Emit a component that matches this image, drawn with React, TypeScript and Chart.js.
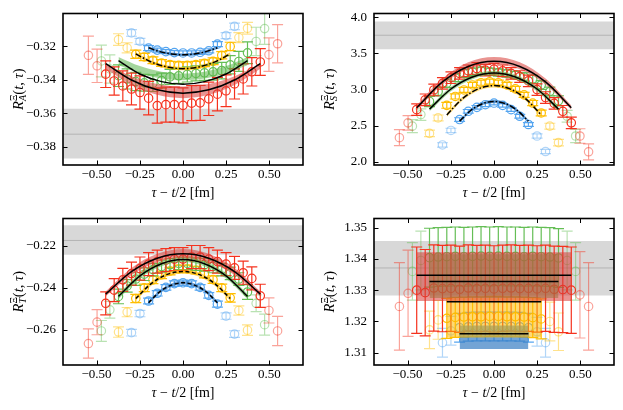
import React, { useEffect, useRef } from "react";
import { Chart, registerables } from "chart.js";

Chart.register(...registerables);

const FONT = "'Liberation Serif', 'DejaVu Serif', serif";

// ---- tau values (fm) ----
const TAU_RED = [-0.547, -0.497, -0.447, -0.398, -0.348, -0.298, -0.249, -0.199, -0.149, -0.099, -0.05, 0, 0.05, 0.099, 0.149, 0.199, 0.249, 0.298, 0.348, 0.398, 0.447, 0.497, 0.547];
const TAU_GREEN = [-0.472, -0.423, -0.373, -0.323, -0.273, -0.224, -0.174, -0.124, -0.075, -0.025, 0.025, 0.075, 0.124, 0.174, 0.224, 0.273, 0.323, 0.373, 0.423, 0.472];
const TAU_YELLOW = [-0.373, -0.323, -0.273, -0.224, -0.174, -0.124, -0.075, -0.025, 0.025, 0.075, 0.124, 0.174, 0.224, 0.273, 0.323, 0.373];
const TAU_BLUE = [-0.298, -0.249, -0.199, -0.149, -0.099, -0.05, 0, 0.05, 0.099, 0.149, 0.199, 0.249, 0.298];

const FX_RED = [-0.447, -0.298, -0.149, 0, 0.149, 0.298, 0.447];
const FX_GREEN = [-0.373, -0.249, -0.124, 0, 0.124, 0.249, 0.373];
const FX_YELLOW = [-0.273, -0.182, -0.091, 0, 0.091, 0.182, 0.273];
const FX_BLUE = [-0.199, -0.133, -0.066, 0, 0.066, 0.133, 0.199];
const FX_RED_FLAT = [-0.447, 0.447];
const FX_GREEN_FLAT = [-0.373, 0.373];
const FX_YELLOW_FLAT = [-0.273, 0.273];
const FX_BLUE_FLAT = [-0.199, 0.199];

const X_TICKS = [-0.5, -0.25, 0, 0.25, 0.5];

// ---- panel A ----
const A_RED = [-0.3253, -0.3316, -0.3366, -0.3407, -0.3437, -0.3455, -0.3476, -0.351, -0.3555, -0.3549, -0.3549, -0.3553, -0.354, -0.3538, -0.3514, -0.3486, -0.3466, -0.3425, -0.3395, -0.3352, -0.3293, -0.3249, -0.3184];
const A_RED_ERR = [0.0115, 0.01, 0.008, 0.0085, 0.009, 0.0095, 0.01, 0.01, 0.0105, 0.0105, 0.0105, 0.0105, 0.0105, 0.0105, 0.01, 0.01, 0.0095, 0.009, 0.009, 0.0085, 0.008, 0.01, 0.0115];
const A_GREEN = [-0.3287, -0.3335, -0.3375, -0.3395, -0.341, -0.3418, -0.342, -0.3405, -0.3382, -0.3376, -0.3368, -0.3362, -0.3358, -0.3352, -0.3345, -0.331, -0.329, -0.3238, -0.317, -0.3093];
const A_GREEN_ERR = [0.0095, 0.0085, 0.0065, 0.006, 0.0055, 0.005, 0.005, 0.0045, 0.0045, 0.0045, 0.0045, 0.0045, 0.0045, 0.005, 0.005, 0.0055, 0.006, 0.0065, 0.0085, 0.0095];
const A_YELLOW = [-0.3159, -0.3208, -0.3247, -0.3263, -0.3283, -0.3299, -0.3309, -0.3313, -0.3313, -0.3309, -0.3301, -0.3289, -0.3253, -0.32, -0.3147, -0.3091];
const A_YELLOW_ERR = [0.0035, 0.003, 0.0025, 0.0022, 0.002, 0.002, 0.002, 0.002, 0.002, 0.002, 0.002, 0.002, 0.0022, 0.0025, 0.003, 0.0035];
const A_BLUE = [-0.3119, -0.317, -0.321, -0.3222, -0.3231, -0.3237, -0.3239, -0.3239, -0.3235, -0.3226, -0.3186, -0.3135, -0.308];
const A_BLUE_ERR = [0.002, 0.0018, 0.0015, 0.0012, 0.0012, 0.0012, 0.0012, 0.0012, 0.0012, 0.0012, 0.0015, 0.0018, 0.002];
const A_FIT_BLUE = [-0.3208, -0.3231, -0.3245, -0.325, -0.3245, -0.3231, -0.3208];
const A_FIT_BLUE_LO = [-0.3216, -0.3239, -0.3253, -0.3258, -0.3253, -0.3239, -0.3216];
const A_FIT_BLUE_HI = [-0.32, -0.3223, -0.3237, -0.3242, -0.3237, -0.3223, -0.32];
const A_FIT_YELLOW = [-0.3245, -0.3294, -0.3323, -0.3333, -0.3323, -0.3294, -0.3245];
const A_FIT_YELLOW_LO = [-0.3255, -0.3304, -0.3333, -0.3343, -0.3333, -0.3304, -0.3255];
const A_FIT_YELLOW_HI = [-0.3235, -0.3284, -0.3313, -0.3323, -0.3313, -0.3284, -0.3235];
const A_FIT_GREEN = [-0.3285, -0.3365, -0.3411, -0.3427, -0.3411, -0.3365, -0.3285];
const A_FIT_GREEN_LO = [-0.3313, -0.3362, -0.3392, -0.3402, -0.3392, -0.3362, -0.3313];
const A_FIT_GREEN_HI = [-0.3263, -0.3318, -0.3351, -0.3362, -0.3351, -0.3318, -0.3263];
const A_FIT_RED = [-0.3303, -0.3401, -0.346, -0.348, -0.346, -0.3401, -0.3303];
const A_FIT_RED_LO = [-0.3333, -0.3431, -0.349, -0.351, -0.349, -0.3431, -0.3333];
const A_FIT_RED_HI = [-0.3303, -0.3379, -0.3425, -0.344, -0.3425, -0.3379, -0.3303];
const A_REF = [-0.3871, -0.3726, -0.3574];
const A_Y_TICKS = [-0.38, -0.36, -0.34, -0.32];

// ---- panel S ----
const S_RED = [2.336, 2.541, 2.723, 2.859, 2.995, 3.086, 3.164, 3.223, 3.259, 3.291, 3.268, 3.282, 3.259, 3.223, 3.18, 3.12, 3.0, 2.89, 2.81, 2.7, 2.541, 2.359, 2.141];
const S_RED_ERR = [0.11, 0.1, 0.08, 0.08, 0.08, 0.08, 0.08, 0.08, 0.08, 0.08, 0.08, 0.08, 0.08, 0.08, 0.08, 0.08, 0.08, 0.08, 0.08, 0.08, 0.08, 0.1, 0.11];
const S_GREEN = [2.495, 2.655, 2.836, 2.973, 3.086, 3.164, 3.223, 3.245, 3.259, 3.245, 3.236, 3.223, 3.2, 3.177, 3.145, 3.064, 2.973, 2.845, 2.632, 2.359];
const S_GREEN_ERR = [0.09, 0.08, 0.07, 0.06, 0.06, 0.055, 0.055, 0.05, 0.05, 0.05, 0.05, 0.05, 0.05, 0.055, 0.055, 0.06, 0.06, 0.07, 0.08, 0.09];
const S_YELLOW = [2.395, 2.609, 2.782, 2.905, 2.995, 3.064, 3.095, 3.109, 3.095, 3.064, 3.009, 2.927, 2.814, 2.677, 2.495, 2.268];
const S_YELLOW_ERR = [0.045, 0.04, 0.04, 0.035, 0.035, 0.035, 0.035, 0.035, 0.035, 0.035, 0.035, 0.035, 0.035, 0.04, 0.04, 0.045];
const S_BLUE = [2.236, 2.436, 2.586, 2.7, 2.755, 2.791, 2.814, 2.782, 2.723, 2.632, 2.518, 2.359, 2.145];
const S_BLUE_ERR = [0.03, 0.03, 0.025, 0.025, 0.025, 0.025, 0.025, 0.025, 0.025, 0.025, 0.025, 0.03, 0.03];
const S_FIT_BLUE = [2.564, 2.715, 2.806, 2.836, 2.806, 2.715, 2.564];
const S_FIT_BLUE_LO = [2.544, 2.695, 2.786, 2.816, 2.786, 2.695, 2.544];
const S_FIT_BLUE_HI = [2.584, 2.735, 2.826, 2.856, 2.826, 2.735, 2.584];
const S_FIT_YELLOW = [2.65, 2.875, 3.01, 3.055, 3.01, 2.875, 2.65];
const S_FIT_YELLOW_LO = [2.625, 2.85, 2.985, 3.03, 2.985, 2.85, 2.625];
const S_FIT_YELLOW_HI = [2.675, 2.9, 3.035, 3.08, 3.035, 2.9, 2.675];
const S_FIT_GREEN = [2.73, 3.008, 3.174, 3.23, 3.174, 3.008, 2.73];
const S_FIT_GREEN_LO = [2.7, 2.978, 3.144, 3.2, 3.144, 2.978, 2.7];
const S_FIT_GREEN_HI = [2.76, 3.038, 3.204, 3.26, 3.204, 3.038, 2.76];
const S_FIT_RED = [2.75, 3.106, 3.319, 3.39, 3.319, 3.106, 2.75];
const S_FIT_RED_LO = [2.72, 3.07, 3.28, 3.35, 3.28, 3.07, 2.72];
const S_FIT_RED_HI = [2.78, 3.152, 3.376, 3.45, 3.376, 3.152, 2.78];
const S_REF = [3.555, 3.75, 3.941];
const S_Y_TICKS = [2.0, 2.5, 3.0, 3.5, 4.0];

// ---- panel T ----
const T_RED = [-0.2666, -0.2564, -0.2474, -0.2411, -0.2362, -0.2332, -0.2308, -0.2287, -0.2275, -0.2268, -0.2263, -0.2263, -0.2253, -0.2253, -0.2263, -0.2275, -0.2287, -0.2305, -0.2328, -0.2355, -0.2438, -0.2508, -0.2606];
const T_RED_ERR = [0.007, 0.006, 0.0055, 0.0055, 0.0055, 0.0055, 0.0055, 0.0055, 0.0055, 0.0055, 0.0055, 0.0055, 0.0055, 0.0055, 0.0055, 0.0055, 0.0055, 0.0055, 0.0055, 0.0055, 0.0055, 0.006, 0.007];
const T_GREEN = [-0.2606, -0.2505, -0.2441, -0.2391, -0.2358, -0.2335, -0.2313, -0.2298, -0.229, -0.2283, -0.2283, -0.2287, -0.229, -0.2298, -0.2313, -0.2331, -0.2358, -0.242, -0.2474, -0.2576];
const T_GREEN_ERR = [0.005, 0.004, 0.0035, 0.003, 0.003, 0.003, 0.003, 0.003, 0.003, 0.003, 0.003, 0.003, 0.003, 0.003, 0.003, 0.003, 0.003, 0.0035, 0.004, 0.005];
const T_YELLOW = [-0.2611, -0.2516, -0.2451, -0.24, -0.2362, -0.2338, -0.232, -0.231, -0.231, -0.2316, -0.2335, -0.2361, -0.24, -0.2448, -0.2508, -0.2602];
const T_YELLOW_ERR = [0.0025, 0.0022, 0.002, 0.0018, 0.0018, 0.0018, 0.0018, 0.0018, 0.0018, 0.0018, 0.0018, 0.0018, 0.0018, 0.002, 0.0022, 0.0025];
const T_BLUE = [-0.2614, -0.2523, -0.2463, -0.2426, -0.2398, -0.238, -0.2376, -0.238, -0.2398, -0.2436, -0.2478, -0.2535, -0.2621];
const T_BLUE_ERR = [0.0016, 0.0015, 0.0014, 0.0013, 0.0013, 0.0013, 0.0013, 0.0013, 0.0013, 0.0013, 0.0014, 0.0015, 0.0016];
const T_FIT_BLUE = [-0.2471, -0.2418, -0.2387, -0.2376, -0.2387, -0.2418, -0.2471];
const T_FIT_BLUE_LO = [-0.2479, -0.2426, -0.2395, -0.2384, -0.2395, -0.2426, -0.2479];
const T_FIT_BLUE_HI = [-0.2463, -0.241, -0.2379, -0.2368, -0.2379, -0.241, -0.2463];
const T_FIT_YELLOW = [-0.2451, -0.2379, -0.2336, -0.2322, -0.2336, -0.2379, -0.2451];
const T_FIT_YELLOW_LO = [-0.2461, -0.2389, -0.2346, -0.2332, -0.2346, -0.2389, -0.2461];
const T_FIT_YELLOW_HI = [-0.2441, -0.2369, -0.2326, -0.2312, -0.2326, -0.2369, -0.2441];
const T_FIT_GREEN = [-0.2441, -0.2343, -0.2285, -0.2265, -0.2285, -0.2343, -0.2441];
const T_FIT_GREEN_LO = [-0.2453, -0.2355, -0.2297, -0.2277, -0.2297, -0.2355, -0.2453];
const T_FIT_GREEN_HI = [-0.2429, -0.2331, -0.2273, -0.2253, -0.2273, -0.2331, -0.2429];
const T_FIT_RED = [-0.243, -0.2323, -0.2259, -0.2238, -0.2259, -0.2323, -0.243];
const T_FIT_RED_LO = [-0.244, -0.2339, -0.2278, -0.2258, -0.2278, -0.2339, -0.244];
const T_FIT_RED_HI = [-0.2418, -0.2305, -0.2238, -0.2215, -0.2238, -0.2305, -0.2418];
const T_REF = [-0.2242, -0.2174, -0.2102];
const T_Y_TICKS = [-0.26, -0.24, -0.22];

// ---- panel V ----
const V_RED = [1.3248, 1.329, 1.33, 1.3292, 1.3307, 1.3305, 1.3306, 1.3303, 1.3307, 1.3305, 1.3306, 1.3304, 1.3306, 1.3307, 1.3305, 1.3306, 1.3304, 1.3306, 1.3303, 1.3302, 1.33, 1.3285, 1.3248];
const V_RED_ERR = [0.014, 0.0138, 0.0138, 0.0138, 0.0138, 0.0138, 0.0138, 0.0138, 0.0138, 0.0138, 0.0138, 0.0138, 0.0138, 0.0138, 0.0138, 0.0138, 0.0138, 0.0138, 0.0138, 0.0138, 0.0138, 0.0138, 0.014];
const V_GREEN = [1.336, 1.3395, 1.3404, 1.3406, 1.3407, 1.3408, 1.3407, 1.3408, 1.3409, 1.3408, 1.3409, 1.3408, 1.3408, 1.3407, 1.3408, 1.3407, 1.3406, 1.3403, 1.3395, 1.336];
const V_GREEN_ERR = [0.0092, 0.0094, 0.0094, 0.0094, 0.0094, 0.0094, 0.0094, 0.0094, 0.0094, 0.0094, 0.0094, 0.0094, 0.0094, 0.0094, 0.0094, 0.0094, 0.0094, 0.0094, 0.0094, 0.0092];
const V_YELLOW = [1.3173, 1.3205, 1.321, 1.3213, 1.3214, 1.3215, 1.3215, 1.3216, 1.3216, 1.3215, 1.3215, 1.3214, 1.3212, 1.3208, 1.32, 1.3167];
const V_YELLOW_ERR = [0.006, 0.0062, 0.0064, 0.0064, 0.0064, 0.0064, 0.0064, 0.0064, 0.0064, 0.0064, 0.0064, 0.0064, 0.0064, 0.0064, 0.0062, 0.006];
const V_BLUE = [1.3132, 1.317, 1.318, 1.3183, 1.3184, 1.3184, 1.3184, 1.3184, 1.3184, 1.3183, 1.318, 1.3167, 1.3132];
const V_BLUE_ERR = [0.0046, 0.0046, 0.0046, 0.0046, 0.0046, 0.0046, 0.0046, 0.0046, 0.0046, 0.0046, 0.0046, 0.0046, 0.0046];
const V_FIT_BLUE = [1.3161, 1.3161];
const V_FIT_BLUE_LO = [1.3112, 1.3112];
const V_FIT_BLUE_HI = [1.3187, 1.3187];
const V_FIT_YELLOW = [1.3263, 1.3263];
const V_FIT_YELLOW_LO = [1.3149, 1.3149];
const V_FIT_YELLOW_HI = [1.3278, 1.3278];
const V_FIT_GREEN = [1.3328, 1.3328];
const V_FIT_GREEN_LO = [1.3275, 1.3275];
const V_FIT_GREEN_HI = [1.3415, 1.3415];
const V_FIT_RED = [1.3348, 1.3348];
const V_FIT_RED_LO = [1.3265, 1.3265];
const V_FIT_RED_HI = [1.3421, 1.3421];
const V_REF = [1.3283, 1.3371, 1.3457];
const V_Y_TICKS = [1.31, 1.32, 1.33, 1.34, 1.35];

// ---- styles ----
const RGB_BLUE = "85,165,240";
const RGB_YELLOW = "255,190,0";
const RGB_GREEN = "100,190,85";
const RGB_RED = "245,50,30";
const BAND_BLUE = "rgba(55,125,195,0.7)";
const BAND_YELLOW = "rgba(255,185,0,0.55)";
const BAND_GREEN = "rgba(90,180,75,0.55)";
const BAND_RED = "rgba(215,60,55,0.55)";
const DASH_DOT = [6, 2, 1.5, 2];
const DASHED = [4, 2.5];
const SOLID: number[] = [];

type Series = { tau: number[]; y: number[]; err: number[]; rgb: string };
type Fit = { x: number[]; line: number[]; lo: number[]; hi: number[]; band: string; dash: number[] };
type PanelDef = {
  left: number; top: number; w: number; plotTop: number; plotBottom: number;
  yMin: number; yMax: number; yTicks: number[]; yDec: number; sub: string;
  ref: number[]; series: Series[]; fits: Fit[];
};

const H = 205;
const PLOT_LEFT = 63;
const PLOT_RIGHT = 303;

function mkSeries(a: number[][]): Series[] {
  const rgbs = [RGB_BLUE, RGB_YELLOW, RGB_GREEN, RGB_RED];
  const taus = [TAU_BLUE, TAU_YELLOW, TAU_GREEN, TAU_RED];
  return rgbs.map((rgb, i) => ({ tau: taus[i], y: a[i * 2], err: a[i * 2 + 1], rgb }));
}

const PANELS: PanelDef[] = [
  {
    left: 0, top: 0, w: 311, plotTop: 11, plotBottom: 165, yMin: -0.39106, yMax: -0.30026,
    yTicks: A_Y_TICKS, yDec: 2, sub: "A", ref: A_REF,
    series: mkSeries([A_BLUE, A_BLUE_ERR, A_YELLOW, A_YELLOW_ERR, A_GREEN, A_GREEN_ERR, A_RED, A_RED_ERR]),
    fits: [
      { x: FX_BLUE, line: A_FIT_BLUE, lo: A_FIT_BLUE_LO, hi: A_FIT_BLUE_HI, band: BAND_BLUE, dash: DASH_DOT },
      { x: FX_YELLOW, line: A_FIT_YELLOW, lo: A_FIT_YELLOW_LO, hi: A_FIT_YELLOW_HI, band: BAND_YELLOW, dash: DASH_DOT },
      { x: FX_GREEN, line: A_FIT_GREEN, lo: A_FIT_GREEN_LO, hi: A_FIT_GREEN_HI, band: BAND_GREEN, dash: SOLID },
      { x: FX_RED, line: A_FIT_RED, lo: A_FIT_RED_LO, hi: A_FIT_RED_HI, band: BAND_RED, dash: SOLID },
    ],
  },
  {
    left: 311, top: 0, w: 312, plotTop: 11, plotBottom: 165, yMin: 1.959, yMax: 4.05,
    yTicks: S_Y_TICKS, yDec: 1, sub: "S", ref: S_REF,
    series: mkSeries([S_BLUE, S_BLUE_ERR, S_YELLOW, S_YELLOW_ERR, S_GREEN, S_GREEN_ERR, S_RED, S_RED_ERR]),
    fits: [
      { x: FX_BLUE, line: S_FIT_BLUE, lo: S_FIT_BLUE_LO, hi: S_FIT_BLUE_HI, band: BAND_BLUE, dash: DASH_DOT },
      { x: FX_YELLOW, line: S_FIT_YELLOW, lo: S_FIT_YELLOW_LO, hi: S_FIT_YELLOW_HI, band: BAND_YELLOW, dash: DASH_DOT },
      { x: FX_GREEN, line: S_FIT_GREEN, lo: S_FIT_GREEN_LO, hi: S_FIT_GREEN_HI, band: BAND_GREEN, dash: SOLID },
      { x: FX_RED, line: S_FIT_RED, lo: S_FIT_RED_LO, hi: S_FIT_RED_HI, band: BAND_RED, dash: SOLID },
    ],
  },
  {
    left: 0, top: 205, w: 311, plotTop: 6, plotBottom: 160, yMin: -0.27684, yMax: -0.20692,
    yTicks: T_Y_TICKS, yDec: 2, sub: "T", ref: T_REF,
    series: mkSeries([T_BLUE, T_BLUE_ERR, T_YELLOW, T_YELLOW_ERR, T_GREEN, T_GREEN_ERR, T_RED, T_RED_ERR]),
    fits: [
      { x: FX_BLUE, line: T_FIT_BLUE, lo: T_FIT_BLUE_LO, hi: T_FIT_BLUE_HI, band: BAND_BLUE, dash: DASHED },
      { x: FX_YELLOW, line: T_FIT_YELLOW, lo: T_FIT_YELLOW_LO, hi: T_FIT_YELLOW_HI, band: BAND_YELLOW, dash: DASHED },
      { x: FX_GREEN, line: T_FIT_GREEN, lo: T_FIT_GREEN_LO, hi: T_FIT_GREEN_HI, band: BAND_GREEN, dash: SOLID },
      { x: FX_RED, line: T_FIT_RED, lo: T_FIT_RED_LO, hi: T_FIT_RED_HI, band: BAND_RED, dash: SOLID },
    ],
  },
  {
    left: 311, top: 205, w: 312, plotTop: 6, plotBottom: 160, yMin: 1.30607, yMax: 1.35292,
    yTicks: V_Y_TICKS, yDec: 2, sub: "V", ref: V_REF,
    series: mkSeries([V_BLUE, V_BLUE_ERR, V_YELLOW, V_YELLOW_ERR, V_GREEN, V_GREEN_ERR, V_RED, V_RED_ERR]),
    fits: [
      { x: FX_BLUE_FLAT, line: V_FIT_BLUE, lo: V_FIT_BLUE_LO, hi: V_FIT_BLUE_HI, band: BAND_BLUE, dash: SOLID },
      { x: FX_YELLOW_FLAT, line: V_FIT_YELLOW, lo: V_FIT_YELLOW_LO, hi: V_FIT_YELLOW_HI, band: BAND_YELLOW, dash: SOLID },
      { x: FX_GREEN_FLAT, line: V_FIT_GREEN, lo: V_FIT_GREEN_LO, hi: V_FIT_GREEN_HI, band: BAND_GREEN, dash: SOLID },
      { x: FX_RED_FLAT, line: V_FIT_RED, lo: V_FIT_RED_LO, hi: V_FIT_RED_HI, band: BAND_RED, dash: SOLID },
    ],
  },
];

const pts = (xs: number[], ys: number[]) => xs.map((x, i) => ({ x, y: ys[i] }));

function buildDatasets(p: PanelDef) {
  const ds: any[] = [];
  const line = (data: any[], extra: any) => ({
    type: "line", data, pointRadius: 0, pointHoverRadius: 0, borderColor: "rgba(0,0,0,0)",
    borderWidth: 0, fill: false, cubicInterpolationMode: "monotone", ...extra,
  });
  // reference band
  ds.push(line(pts([-1, 1], [p.ref[0], p.ref[0]]), {}));
  ds.push(line(pts([-1, 1], [p.ref[2], p.ref[2]]), { fill: "-1", backgroundColor: "rgba(190,190,190,0.6)" }));
  ds.push(line(pts([-1, 1], [p.ref[1], p.ref[1]]), { borderColor: "rgba(170,170,170,0.8)", borderWidth: 1 }));
  // data points with error bars
  for (const s of p.series) {
    const n = s.tau.length;
    const idxF: number[] = [];
    const idxS: number[] = [];
    for (let i = 0; i < n; i++) (i < 2 || i >= n - 2 ? idxF : idxS).push(i);
    for (const [idx, alpha] of [[idxF, 0.45], [idxS, 1]] as [number[], number][]) {
      const col = `rgba(${s.rgb},${alpha})`;
      ds.push({
        type: "scatter",
        data: idx.map((i) => ({ x: s.tau[i], y: s.y[i] })),
        errors: idx.map((i) => s.err[i]),
        borderColor: col, pointBorderColor: col, pointBackgroundColor: "rgba(0,0,0,0)",
        pointRadius: 4.2, pointHoverRadius: 4.2, pointBorderWidth: 1.2, showLine: false,
      });
    }
  }
  // fit bands
  for (const f of p.fits) {
    ds.push(line(pts(f.x, f.lo), {}));
    ds.push(line(pts(f.x, f.hi), { fill: "-1", backgroundColor: f.band }));
  }
  // fit central lines
  for (const f of p.fits) {
    ds.push(line(pts(f.x, f.line), { borderColor: "#000", borderWidth: 1.5, borderDash: f.dash }));
  }
  ds.forEach((d, i) => { d.order = 1000 - i; d.clip = 0; });
  return ds;
}

type Part = { t: string; font: string; dy?: number };
function drawRich(ctx: CanvasRenderingContext2D, segs: Part[][], cx: number, cy: number, rotate: boolean) {
  ctx.save();
  ctx.translate(cx, cy);
  if (rotate) ctx.rotate(-Math.PI / 2);
  ctx.fillStyle = "#000";
  ctx.textAlign = "left";
  ctx.textBaseline = "alphabetic";
  const widths = segs.map((s) => {
    let w = 0;
    for (const part of s) { ctx.font = part.font; w = Math.max(w, ctx.measureText(part.t).width); }
    return w;
  });
  const total = widths.reduce((a, b) => a + b, 0);
  let x = -total / 2;
  segs.forEach((s, i) => {
    for (const part of s) { ctx.font = part.font; ctx.fillText(part.t, x, 5 + (part.dy || 0)); }
    x += widths[i];
  });
  ctx.restore();
}

const fmt = (v: number, d: number) => (v < -1e-9 ? "\u2212" : "") + Math.abs(v).toFixed(d);

function makeConfig(p: PanelDef): any {
  const F = (s: number, it = false) => `${it ? "italic " : ""}${s}px ${FONT}`;
  const decor = {
    id: "decor",
    beforeDatasetDraw(chart: any, args: any) {
      const ds = chart.data.datasets[args.index];
      if (!ds.errors) return;
      const { ctx, chartArea: ca } = chart;
      const xs = chart.scales.x;
      const ys = chart.scales.y;
      ctx.save();
      ctx.beginPath();
      ctx.rect(ca.left, ca.top, ca.right - ca.left, ca.bottom - ca.top);
      ctx.clip();
      ctx.strokeStyle = ds.borderColor;
      ctx.lineWidth = 1.2;
      const cap = 5.5;
      ds.data.forEach((pt: any, i: number) => {
        const e = ds.errors[i];
        const px = xs.getPixelForValue(pt.x);
        const y1 = ys.getPixelForValue(pt.y + e);
        const y2 = ys.getPixelForValue(pt.y - e);
        ctx.beginPath();
        ctx.moveTo(px, y1); ctx.lineTo(px, y2);
        ctx.moveTo(px - cap, y1); ctx.lineTo(px + cap, y1);
        ctx.moveTo(px - cap, y2); ctx.lineTo(px + cap, y2);
        ctx.stroke();
      });
      ctx.restore();
    },
    afterDatasetsDraw(chart: any) {
      const { ctx, chartArea: ca } = chart;
      const xs = chart.scales.x;
      const ys = chart.scales.y;
      ctx.save();
      ctx.strokeStyle = "#000";
      ctx.lineWidth = 1;
      const tl = 4.5;
      ctx.beginPath();
      for (const v of X_TICKS) {
        const px = Math.round(xs.getPixelForValue(v)) + 0.5;
        ctx.moveTo(px, ca.bottom); ctx.lineTo(px, ca.bottom - tl);
        ctx.moveTo(px, ca.top); ctx.lineTo(px, ca.top + tl);
      }
      for (const v of p.yTicks) {
        const py = Math.round(ys.getPixelForValue(v)) + 0.5;
        ctx.moveTo(ca.left, py); ctx.lineTo(ca.left + tl, py);
        ctx.moveTo(ca.right, py); ctx.lineTo(ca.right - tl, py);
      }
      ctx.stroke();
      ctx.lineWidth = 1.6;
      ctx.strokeRect(ca.left, ca.top, ca.right - ca.left, ca.bottom - ca.top);
      ctx.restore();
    },
    afterDraw(chart: any) {
      const { ctx, chartArea: ca } = chart;
      drawRich(ctx, [
        [{ t: "\u03c4", font: F(14, true) }],
        [{ t: " \u2212 ", font: F(14) }],
        [{ t: "t", font: F(14, true) }],
        [{ t: "/2 [fm]", font: F(14) }],
      ], (ca.left + ca.right) / 2, ca.bottom + 27, false);
      drawRich(ctx, [
        [{ t: "R", font: F(14.5, true) }],
        [{ t: "\u039e", font: F(10), dy: -6.5 }, { t: p.sub, font: F(10, true), dy: 3 }],
        [{ t: "(", font: F(14.5) }],
        [{ t: "t", font: F(14.5, true) }],
        [{ t: ", ", font: F(14.5) }],
        [{ t: "\u03c4", font: F(14.5, true) }],
        [{ t: ")", font: F(14.5) }],
      ], 18, (ca.top + ca.bottom) / 2, true);
    },
  };
  const tickFont = { family: FONT, size: 13, lineHeight: 1 };
  return {
    type: "scatter",
    data: { datasets: buildDatasets(p) },
    plugins: [decor],
    options: {
      animation: false,
      responsive: false,
      maintainAspectRatio: false,
      events: [],
      layout: { autoPadding: false, padding: { left: 0, top: p.plotTop, right: p.w - PLOT_RIGHT, bottom: 0 } },
      plugins: { legend: { display: false }, tooltip: { enabled: false } },
      scales: {
        x: {
          type: "linear", min: -0.694, max: 0.694,
          grid: { display: false, drawTicks: false }, border: { display: false },
          afterFit: (s: any) => { s.height = H - p.plotBottom; },
          afterBuildTicks: (s: any) => { s.ticks = X_TICKS.map((v) => ({ value: v })); },
          ticks: { font: tickFont, color: "#000", padding: 3, maxRotation: 0, autoSkip: false, callback: (v: number) => fmt(v, 2) },
        },
        y: {
          type: "linear", min: p.yMin, max: p.yMax,
          grid: { display: false, drawTicks: false }, border: { display: false },
          afterFit: (s: any) => { s.width = PLOT_LEFT; },
          afterBuildTicks: (s: any) => { s.ticks = p.yTicks.map((v) => ({ value: v })); },
          ticks: { font: tickFont, color: "#000", padding: 7, autoSkip: false, callback: (v: number) => fmt(v, p.yDec) },
        },
      },
    },
  };
}

function Panel({ p }: { p: PanelDef }) {
  const ref = useRef<HTMLCanvasElement>(null);
  useEffect(() => {
    const chart = new Chart(ref.current as HTMLCanvasElement, makeConfig(p));
    return () => chart.destroy();
  }, [p]);
  return (
    <div style={{ position: "absolute", left: p.left, top: p.top, width: p.w, height: H }}>
      <canvas ref={ref} width={p.w} height={H} style={{ width: p.w, height: H, display: "block" }} />
    </div>
  );
}

export default function App() {
  return (
    <div style={{ position: "absolute", left: 0, top: 0, width: 623, height: 410, background: "#fff" }}>
      {PANELS.map((p, i) => (
        <Panel key={i} p={p} />
      ))}
    </div>
  );
}
